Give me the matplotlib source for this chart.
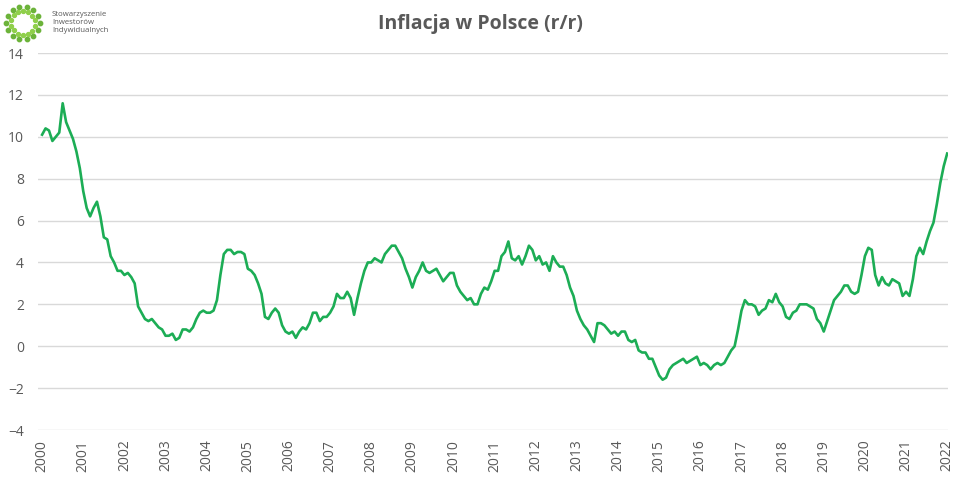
import matplotlib
matplotlib.use("Agg")
import matplotlib.pyplot as plt
import numpy as np

# CPI y/y, monthly, Jan 2000 .. Jan 2022
cpi_2000 = [10.1, 10.4, 10.3, 9.8, 10.0, 10.2, 11.6, 10.7, 10.3, 9.9, 9.3, 8.5]
cpi_2001 = [7.4, 6.6, 6.2, 6.6, 6.9, 6.2, 5.2, 5.1, 4.3, 4.0, 3.6, 3.6]
cpi_2002 = [3.4, 3.5, 3.3, 3.0, 1.9, 1.6, 1.3, 1.2, 1.3, 1.1, 0.9, 0.8]
cpi_2003 = [0.5, 0.5, 0.6, 0.3, 0.4, 0.8, 0.8, 0.7, 0.9, 1.3, 1.6, 1.7]
cpi_2004 = [1.6, 1.6, 1.7, 2.2, 3.4, 4.4, 4.6, 4.6, 4.4, 4.5, 4.5, 4.4]
cpi_2005 = [3.7, 3.6, 3.4, 3.0, 2.5, 1.4, 1.3, 1.6, 1.8, 1.6, 1.0, 0.7]
cpi_2006 = [0.6, 0.7, 0.4, 0.7, 0.9, 0.8, 1.1, 1.6, 1.6, 1.2, 1.4, 1.4]
cpi_2007 = [1.6, 1.9, 2.5, 2.3, 2.3, 2.6, 2.3, 1.5, 2.3, 3.0, 3.6, 4.0]
cpi_2008 = [4.0, 4.2, 4.1, 4.0, 4.4, 4.6, 4.8, 4.8, 4.5, 4.2, 3.7, 3.3]
cpi_2009 = [2.8, 3.3, 3.6, 4.0, 3.6, 3.5, 3.6, 3.7, 3.4, 3.1, 3.3, 3.5]
cpi_2010 = [3.5, 2.9, 2.6, 2.4, 2.2, 2.3, 2.0, 2.0, 2.5, 2.8, 2.7, 3.1]
cpi_2011 = [3.6, 3.6, 4.3, 4.5, 5.0, 4.2, 4.1, 4.3, 3.9, 4.3, 4.8, 4.6]
cpi_2012 = [4.1, 4.3, 3.9, 4.0, 3.6, 4.3, 4.0, 3.8, 3.8, 3.4, 2.8, 2.4]
cpi_2013 = [1.7, 1.3, 1.0, 0.8, 0.5, 0.2, 1.1, 1.1, 1.0, 0.8, 0.6, 0.7]
cpi_2014 = [0.5, 0.7, 0.7, 0.3, 0.2, 0.3, -0.2, -0.3, -0.3, -0.6, -0.6, -1.0]
cpi_2015 = [-1.4, -1.6, -1.5, -1.1, -0.9, -0.8, -0.7, -0.6, -0.8, -0.7, -0.6, -0.5]
cpi_2016 = [-0.9, -0.8, -0.9, -1.1, -0.9, -0.8, -0.9, -0.8, -0.5, -0.2, 0.0, 0.8]
cpi_2017 = [1.7, 2.2, 2.0, 2.0, 1.9, 1.5, 1.7, 1.8, 2.2, 2.1, 2.5, 2.1]
cpi_2018 = [1.9, 1.4, 1.3, 1.6, 1.7, 2.0, 2.0, 2.0, 1.9, 1.8, 1.3, 1.1]
cpi_2019 = [0.7, 1.2, 1.7, 2.2, 2.4, 2.6, 2.9, 2.9, 2.6, 2.5, 2.6, 3.4]
cpi_2020 = [4.3, 4.7, 4.6, 3.4, 2.9, 3.3, 3.0, 2.9, 3.2, 3.1, 3.0, 2.4]
cpi_2021 = [2.6, 2.4, 3.2, 4.3, 4.7, 4.4, 5.0, 5.5, 5.9, 6.8, 7.8, 8.6]
cpi_2022 = [9.2]

years = list(range(2000, 2023))
y_ticks = [-4, -2, 0, 2, 4, 6, 8, 10, 12, 14]

cpi = (cpi_2000 + cpi_2001 + cpi_2002 + cpi_2003 + cpi_2004 + cpi_2005
       + cpi_2006 + cpi_2007 + cpi_2008 + cpi_2009 + cpi_2010 + cpi_2011
       + cpi_2012 + cpi_2013 + cpi_2014 + cpi_2015 + cpi_2016 + cpi_2017
       + cpi_2018 + cpi_2019 + cpi_2020 + cpi_2021 + cpi_2022)
t = 2000 + np.arange(len(cpi)) / 12.0

plt.rcParams["font.family"] = ["Open Sans", "DejaVu Sans"]
gray = "#595959"

fig = plt.figure(figsize=(9.6, 4.8), dpi=100)
ax = fig.add_axes([38 / 960, 1 - 430 / 480, 910 / 960, 377 / 480])

ax.plot(t, cpi, color="#1cad55", linewidth=1.9, solid_joinstyle="round")

ax.set_xlim(1999.9, 2022.02)
ax.set_ylim(-4, 14)
ax.set_yticks(y_ticks)
ax.set_xticks(years)
ax.set_xticklabels([str(y) for y in years], rotation=90)
ax.grid(axis="y", color="#d9d9d9", linewidth=1)
ax.set_axisbelow(True)
for s in ax.spines.values():
    s.set_visible(False)
ax.tick_params(length=0, colors=gray, labelsize=10)
ax.tick_params(axis="y", pad=10)
ax.tick_params(axis="x", pad=7)

fig.text(0.5, 1 - 24 / 480, "Inflacja w Polsce (r/r)", ha="center", va="center",
         fontsize=14, fontweight="bold", color=gray)

# logo: ring of dots + name
ang = np.linspace(0, 2 * np.pi, 14, endpoint=False)
lax = fig.add_axes([3 / 960, 1 - 43 / 480, 40 / 960, 40 / 480])
lax.set_xlim(-1.2, 1.2)
lax.set_ylim(-1.2, 1.2)
lax.axis("off")
lax.scatter(np.cos(ang), np.sin(ang), s=10, color="#6cb33a")
lax.scatter(0.72 * np.cos(ang + 0.22), 0.72 * np.sin(ang + 0.22), s=8, color="#8fcf4a")
fig.text(52 / 960, 1 - 22 / 480, "Stowarzyszenie\nInwestorów\nIndywidualnych",
         ha="left", va="center", fontsize=5.6, color=gray, linespacing=1.2)

fig.savefig("out.png", dpi=100)
